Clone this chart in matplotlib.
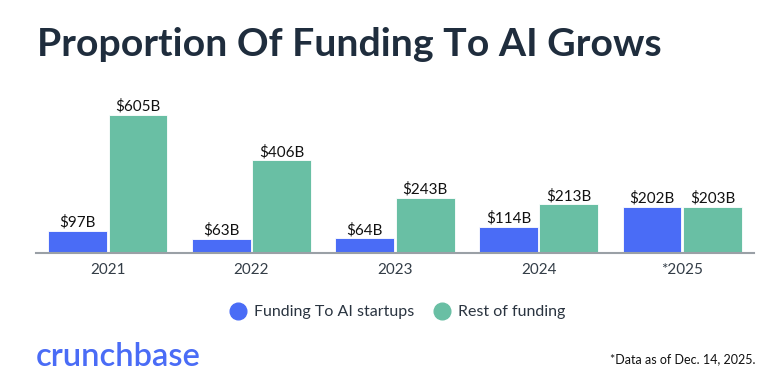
import numpy as np
import matplotlib
matplotlib.use("Agg")
import matplotlib.pyplot as plt

years = ["2021", "2022", "2023", "2024", "*2025"]
ai_funding = [97, 63, 64, 114, 202]
rest_funding = [605, 406, 243, 213, 203]
series_names = ["Funding To AI startups", "Rest of funding"]

BLUE = "#4A6CF6"
GREEN = "#69BFA4"
NAVY = "#1F2D3D"

plt.rcParams["font.family"] = ["Lato", "DejaVu Sans"]

fig = plt.figure(figsize=(7.69, 3.87), dpi=100)
ax = fig.add_axes([36 / 769, 1 - 253 / 387, 718 / 769, 148.2 / 387])

x = np.arange(len(years))
w = 0.41
off = 0.21
b1 = ax.bar(x - off, ai_funding, w, color=BLUE, edgecolor="white", linewidth=0.6)
b2 = ax.bar(x + off, rest_funding, w, color=GREEN, edgecolor="white", linewidth=0.6)

for bars, vals in ((b1, ai_funding), (b2, rest_funding)):
    for r, v in zip(bars, vals):
        ax.text(r.get_x() + r.get_width() / 2, v + 6, f"${v}B",
                ha="center", va="bottom", fontsize=11, color="#111111")

ax.set_xlim(-0.5, 4.5)
ax.set_ylim(0, 650)
ax.set_xticks(x)
ax.set_xticklabels(years, fontsize=11, color="#333D47")
ax.tick_params(axis="x", length=0, pad=7)
ax.set_yticks([])
for s in ("top", "right", "left"):
    ax.spines[s].set_visible(False)
ax.spines["bottom"].set_color("#9AA0A6")
ax.spines["bottom"].set_linewidth(1.5)

# legend
handles = [plt.Line2D([], [], marker="o", linestyle="", markersize=12, color=c)
           for c in (BLUE, GREEN)]
fig.legend(handles, series_names, loc="center", bbox_to_anchor=(396 / 769, 1 - 312 / 387),
           ncol=2, frameon=False, fontsize=11.5, handletextpad=0.3, columnspacing=1.0,
           handlelength=1.4, labelcolor="#2A3440")

fig.text(37 / 769, 1 - 45 / 387, "Proportion Of Funding To AI Grows",
         fontsize=28.3, fontweight="bold", color=NAVY, va="center", ha="left")
fig.text(36 / 769, 1 - 357 / 387, "crunchbase", fontsize=23.5, fontweight="semibold",
         color=BLUE, va="center", ha="left")
fig.text(756 / 769, 1 - 359 / 387, "*Data as of Dec. 14, 2025.", fontsize=9,
         color="#111111", va="center", ha="right")

fig.savefig("out.png", dpi=100)
